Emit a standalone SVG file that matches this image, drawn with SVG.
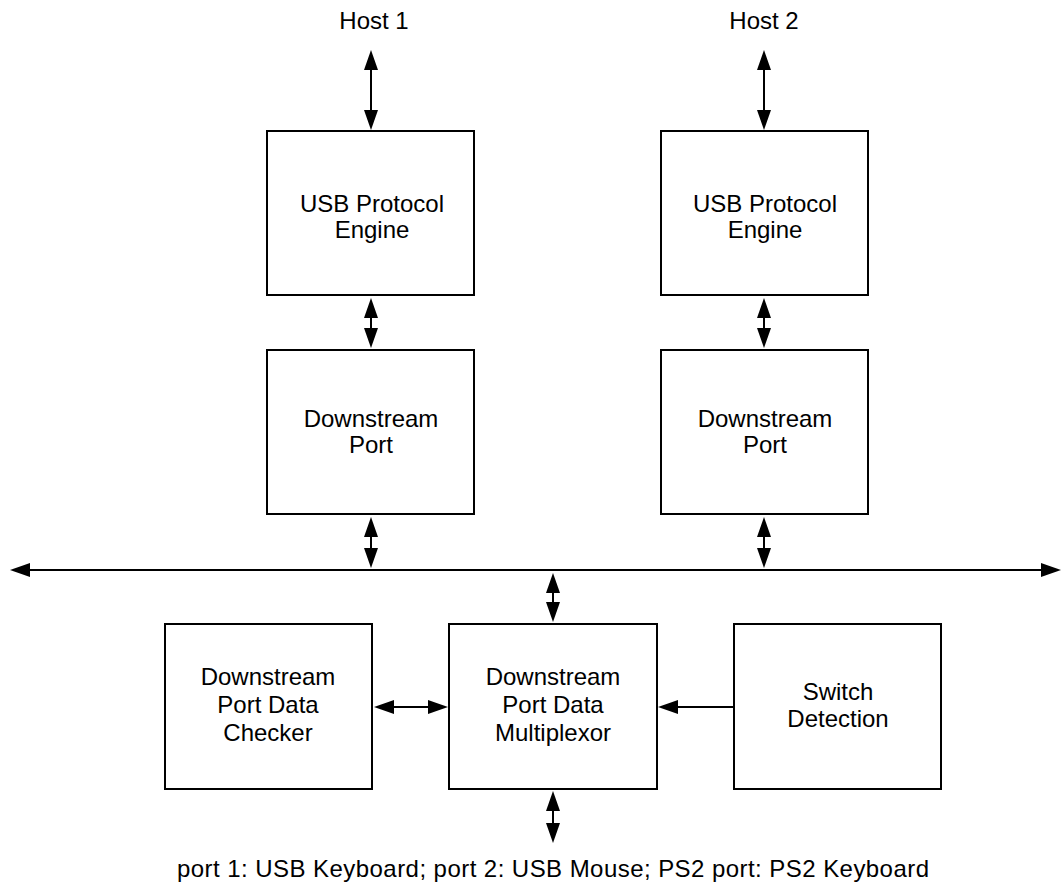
<svg xmlns="http://www.w3.org/2000/svg" width="1063" height="887" viewBox="0 0 1063 887">
<style>
.box{fill:#fff;stroke:#000;stroke-width:2}
.t{font-family:"Liberation Sans",Arial,sans-serif;font-size:24px;fill:#000;text-anchor:middle}
.c{fill:none;stroke:#000;stroke-width:2}
</style>
<defs>
<marker id="ah" viewBox="0 0 20 14" markerWidth="20" markerHeight="14" markerUnits="userSpaceOnUse" refX="16" refY="7" orient="auto-start-reverse">
<path d="M0,0 L20,7 L0,14 z" fill="#000"/>
</marker>
</defs>
<rect width="1063" height="887" fill="#fff"/>
<g id="connectors">
<line class="c" x1="371" y1="54" x2="371" y2="126" marker-start="url(#ah)" marker-end="url(#ah)"/>
<line class="c" x1="764" y1="54" x2="764" y2="126" marker-start="url(#ah)" marker-end="url(#ah)"/>
<line class="c" x1="371" y1="302" x2="371" y2="344" marker-start="url(#ah)" marker-end="url(#ah)"/>
<line class="c" x1="764" y1="302" x2="764" y2="344" marker-start="url(#ah)" marker-end="url(#ah)"/>
<line class="c" x1="371" y1="521" x2="371" y2="564" marker-start="url(#ah)" marker-end="url(#ah)"/>
<line class="c" x1="764" y1="521" x2="764" y2="564" marker-start="url(#ah)" marker-end="url(#ah)"/>
<line class="c" x1="14" y1="570" x2="1057" y2="570" marker-start="url(#ah)" marker-end="url(#ah)"/>
<line class="c" x1="553" y1="577" x2="553" y2="618" marker-start="url(#ah)" marker-end="url(#ah)"/>
<line class="c" x1="553" y1="795" x2="553" y2="839" marker-start="url(#ah)" marker-end="url(#ah)"/>
<line class="c" x1="378" y1="707" x2="444" y2="707" marker-start="url(#ah)" marker-end="url(#ah)"/>
<line class="c" x1="734" y1="707" x2="662" y2="707" marker-end="url(#ah)"/>
</g>
<g id="host1"><text class="t" x="374" y="29">Host 1</text></g>
<g id="host2"><text class="t" x="764" y="29">Host 2</text></g>
<g id="usb1">
<rect class="box" x="267" y="131" width="207" height="164"/>
<text class="t" x="372" y="212">USB Protocol</text>
<text class="t" x="372" y="238">Engine</text>
</g>
<g id="usb2">
<rect class="box" x="661" y="131" width="207" height="164"/>
<text class="t" x="765" y="212">USB Protocol</text>
<text class="t" x="765" y="238">Engine</text>
</g>
<g id="dp1">
<rect class="box" x="267" y="350" width="207" height="164"/>
<text class="t" x="371" y="427">Downstream</text>
<text class="t" x="371" y="453">Port</text>
</g>
<g id="dp2">
<rect class="box" x="661" y="350" width="207" height="164"/>
<text class="t" x="765" y="427">Downstream</text>
<text class="t" x="765" y="453">Port</text>
</g>
<g id="checker">
<rect class="box" x="165" y="624" width="207" height="165"/>
<text class="t" x="268" y="685">Downstream</text>
<text class="t" x="268" y="713">Port Data</text>
<text class="t" x="268" y="741">Checker</text>
</g>
<g id="mux">
<rect class="box" x="449" y="624" width="208" height="165"/>
<text class="t" x="553" y="685">Downstream</text>
<text class="t" x="553" y="713">Port Data</text>
<text class="t" x="553" y="741">Multiplexor</text>
</g>
<g id="switch">
<rect class="box" x="734" y="624" width="207" height="165"/>
<text class="t" x="838" y="700">Switch</text>
<text class="t" x="838" y="727">Detection</text>
</g>
<g id="ports"><text class="t" x="553" y="877" textLength="752" lengthAdjust="spacing">port 1: USB Keyboard; port 2: USB Mouse; PS2 port: PS2 Keyboard</text></g>
</svg>
